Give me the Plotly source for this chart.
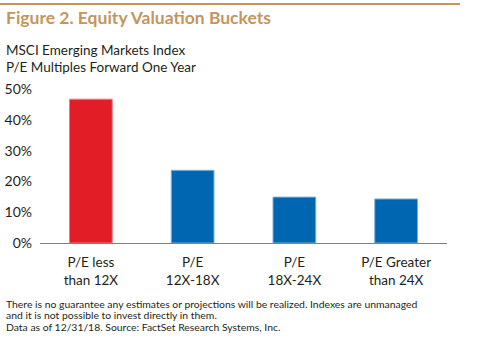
import plotly.graph_objects as go

categories = ["P/E less<br>than 12X", "P/E<br>12X-18X", "P/E<br>18X-24X", "P/E Greater<br>than 24X"]
values = [46.7, 23.6, 14.9, 14.3]
bar_colors = ["#E31D25", "#0066B2", "#0066B2", "#0066B2"]
edge_colors = ["#F27C80", "#7DB0DA", "#7DB0DA", "#7DB0DA"]
tick_vals = [0, 10, 20, 30, 40, 50]
tick_text = ["0%", "10%", "20%", "30%", "40%", "50%"]

W, H = 500, 350
L, R, T, B = 40, 53, 89, 107
PW, PH = W - L - R, H - T - B

def px(x):
    return (x - L) / PW

def py(y):
    return (H - B - y) / PH

FONT = "Lato"

fig = go.Figure(go.Bar(
    x=categories, y=values, width=0.42,
    marker=dict(color=bar_colors, line=dict(color=edge_colors, width=1)),
))

fig.update_layout(
    width=W, height=H,
    margin=dict(l=L, r=R, t=T, b=B),
    paper_bgcolor="white", plot_bgcolor="white",
    showlegend=False,
    font=dict(family=FONT, size=13, color="#231F20"),
    xaxis=dict(showline=True, linecolor="#808080", linewidth=1.2, ticks="",
               tickfont=dict(size=13.5, color="#231F20"), range=[-0.5, 3.5],
               automargin=False, ticklabelstandoff=7),
    yaxis=dict(range=[0, 50], tickvals=tick_vals, ticktext=tick_text,
               showgrid=False, zeroline=False, showline=False, automargin=False,
               tickfont=dict(size=14, color="#231F20"), ticklabelstandoff=7),
)

fig.add_shape(type="line", xref="paper", yref="paper",
              x0=px(0), x1=px(460), y0=py(4), y1=py(4),
              line=dict(color="#C4955E", width=2))

ann = [
    ("<b>Figure 2. Equity Valuation Buckets</b>", 4, 18, 17.5, "#C4955E"),
    ("MSCI Emerging Markets Index", 4, 50, 13.5, "#231F20"),
    ("P/E Multiples Forward One Year", 4, 67, 13.5, "#231F20"),
    ("There is no guarantee any estimates or projections will be realized. Indexes are unmanaged", 4, 303.5, 10.4, "#231F20"),
    ("and it is not possible to invest directly in them.", 4, 315, 10.4, "#231F20"),
    ("Data as of 12/31/18. Source: FactSet Research Systems, Inc.", 4, 326.5, 10.4, "#231F20"),
]
for text, x, y, size, color in ann:
    fig.add_annotation(text=text, xref="paper", yref="paper", x=px(x), y=py(y),
                       xanchor="left", yanchor="middle", showarrow=False,
                       font=dict(family=FONT, size=size, color=color))

fig.write_html("out.html")
